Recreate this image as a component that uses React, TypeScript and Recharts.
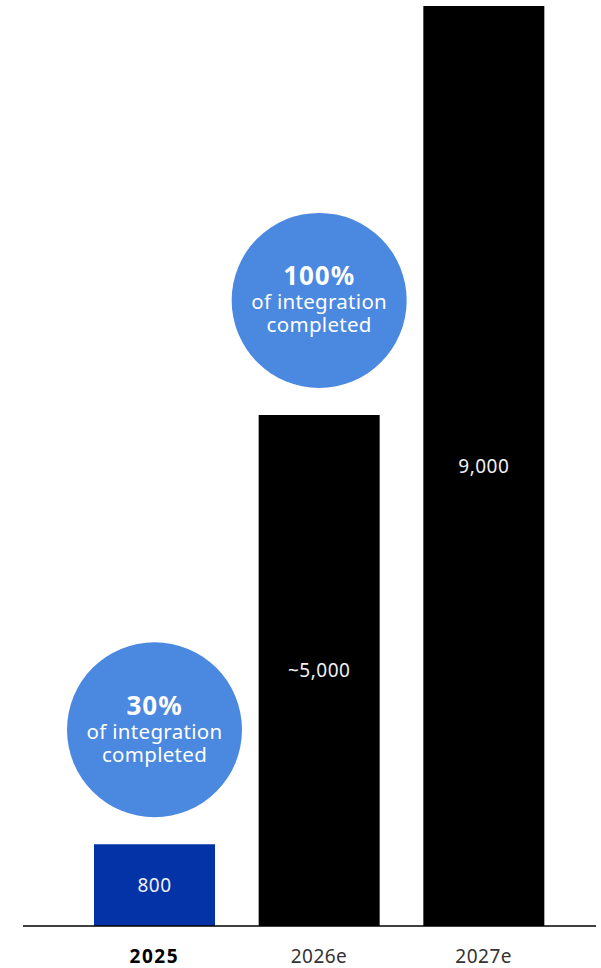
import React from 'react';
import { BarChart, Bar, XAxis, YAxis, Cell, LabelList } from 'recharts';

const categories = ['2025', '2026e', '2027e'];
const values = [800, 5000, 9000];
const valueLabels = ['800', '~5,000', '9,000'];
const integration = ['30%', '100%', null];
const highlighted = ['2025'];

const BLUE = '#0433a8';
const BUBBLE = '#4b88e0';
const FONT = '"Noto Sans", "Open Sans", sans-serif';

const data = categories.map((name, i) => ({
  name,
  value: values[i],
  label: valueLabels[i],
  integration: integration[i],
}));

const Tick = (props: any) => {
  const { x, y, payload } = props;
  const bold = highlighted.includes(payload.value);
  return (
    <text
      x={x}
      y={y + 29}
      textAnchor="middle"
      fontFamily={FONT}
      fontSize={19}
      fontWeight={bold ? 700 : 400}
      fill={bold ? '#000000' : '#333333'}
      letterSpacing={bold ? 1.5 : 0.5}
    >
      {payload.value}
    </text>
  );
};

const Bubble = (props: any) => {
  const { x, y, width, value } = props;
  if (!value) return null;
  const cx = x + width / 2;
  const cy = y - 114.5;
  return (
    <g>
      <circle cx={cx} cy={cy} r={87.5} fill={BUBBLE} />
      <text x={cx} y={cy - 15} textAnchor="middle" fontFamily={FONT} fontSize={26} fontWeight={700} fill="#ffffff" letterSpacing={1}>
        {value}
      </text>
      <text x={cx} y={cy + 9} textAnchor="middle" fontFamily={FONT} fontSize={20.5} fill="#ffffff" letterSpacing={0.3}>
        of integration
      </text>
      <text x={cx} y={cy + 32} textAnchor="middle" fontFamily={FONT} fontSize={20.5} fill="#ffffff" letterSpacing={0.3}>
        completed
      </text>
    </g>
  );
};

export default function App() {
  return (
    <div style={{ position: 'absolute', left: 0, top: 0, width: 601, height: 968, background: '#fff' }}>
      <BarChart
        width={601}
        height={968}
        data={data}
        margin={{ top: 6, right: 5, bottom: 0, left: 23 }}
      >
        <XAxis
          dataKey="name"
          height={42}
          padding={{ left: 49, right: 30 }}
          axisLine={{ stroke: '#000000', strokeWidth: 1.5 }}
          tickLine={false}
          tick={<Tick />}
          interval={0}
        />
        <YAxis hide domain={[0, 9000]} width={0} />
        <Bar dataKey="value" barSize={121} isAnimationActive={false}>
          {data.map((d) => (
            <Cell key={d.name} fill={highlighted.includes(d.name) ? BLUE : '#000000'} />
          ))}
          <LabelList
            dataKey="label"
            position="center"
            fill="#f0f0f5"
            fontSize={19}
            fontFamily={FONT}
            letterSpacing={0.5}
          />
          <LabelList dataKey="integration" content={<Bubble />} />
        </Bar>
      </BarChart>
    </div>
  );
}
